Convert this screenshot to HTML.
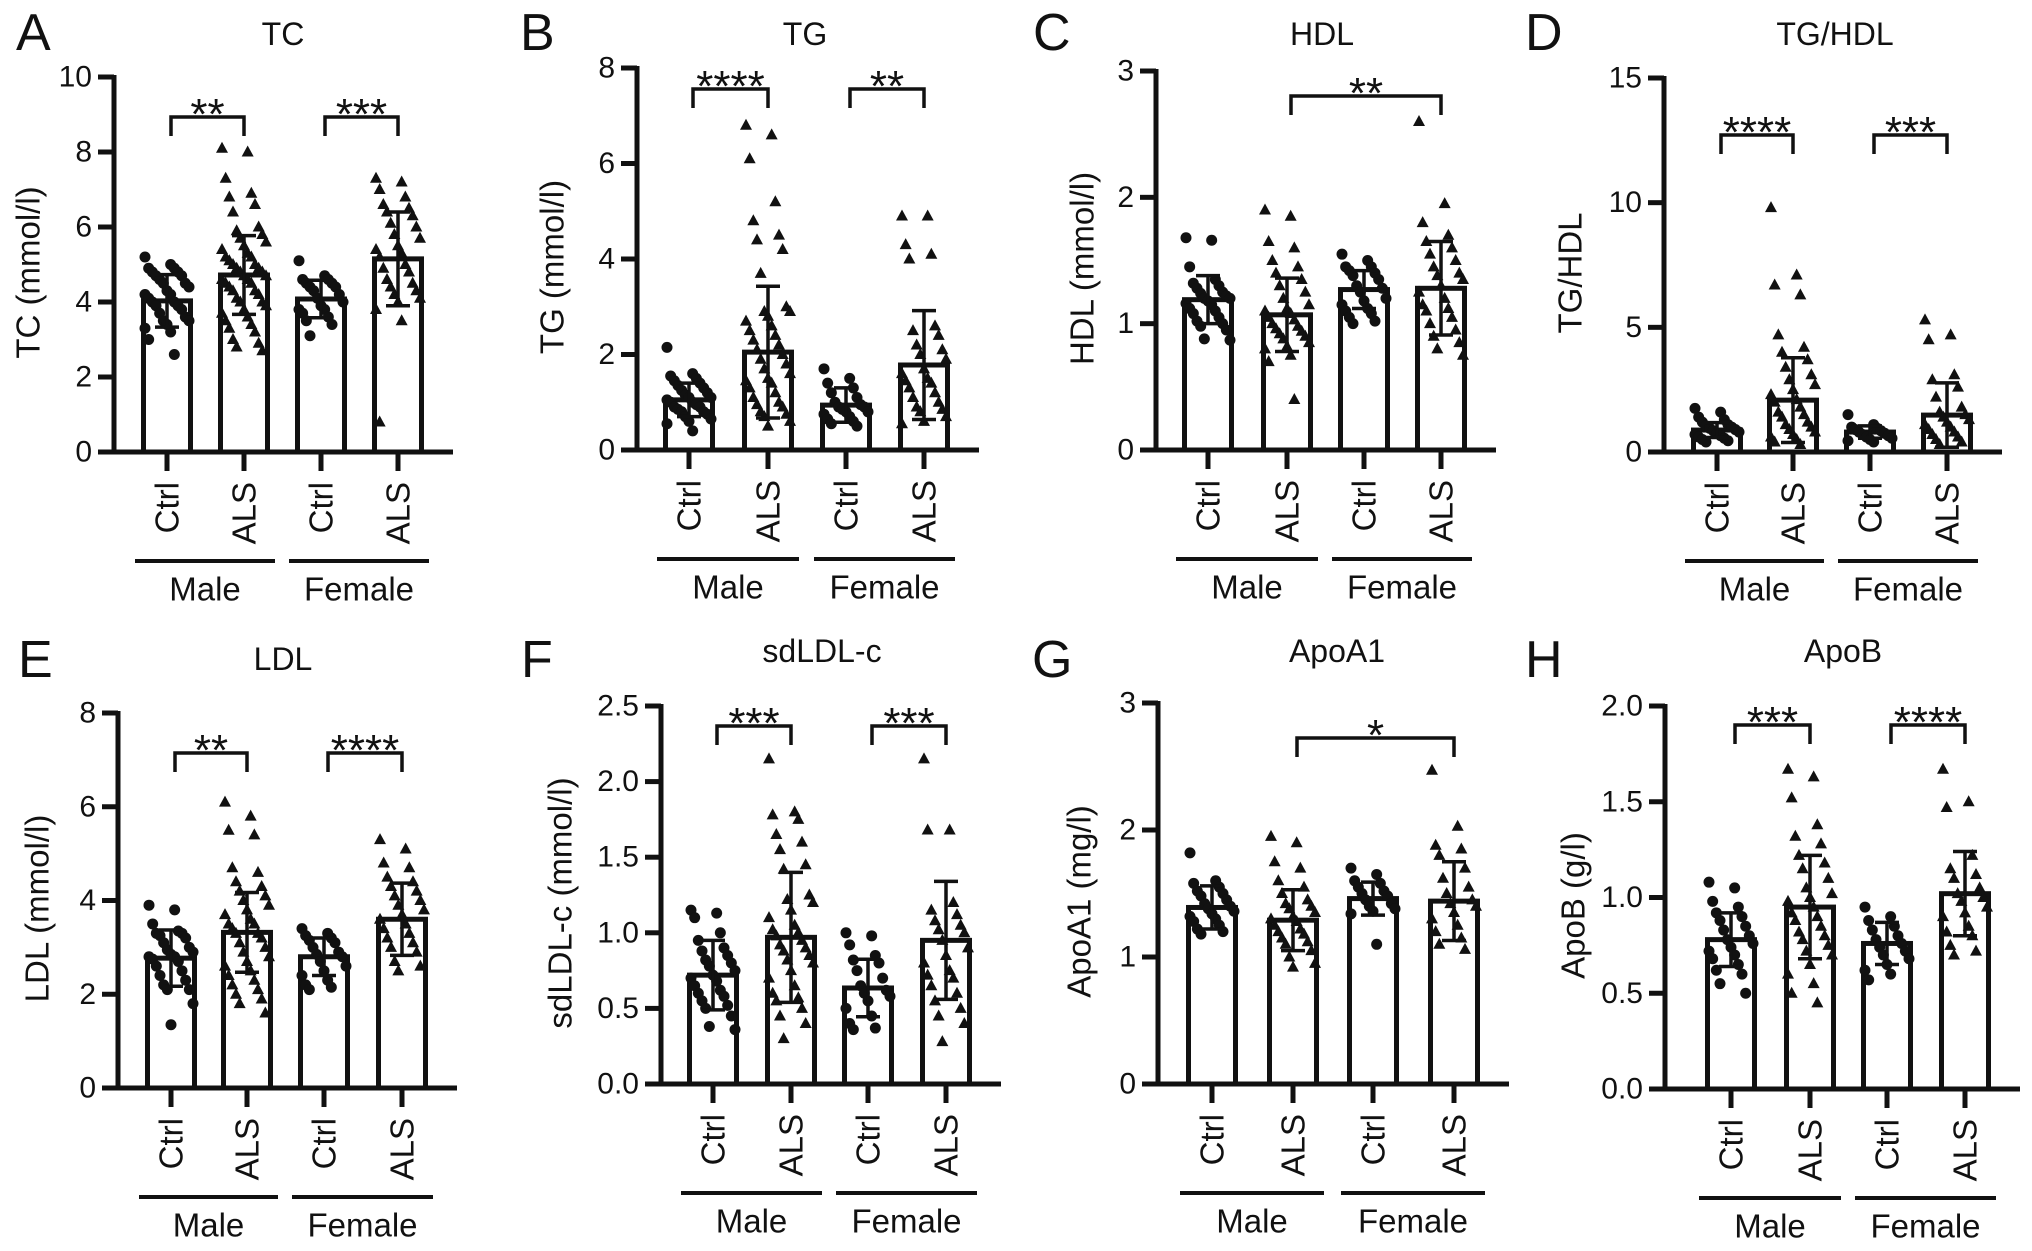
<!DOCTYPE html>
<html><head><meta charset="utf-8"><style>
html,body{margin:0;padding:0;background:#fff}
svg{display:block}
text{font-family:"Liberation Sans",Arial,sans-serif;fill:#111}
</style></head><body>
<svg id="fig" width="2032" height="1251" viewBox="0 0 2032 1251" xmlns="http://www.w3.org/2000/svg"></svg>
<script>
// ---------- data ----------
const groupNames = ["Ctrl","ALS","Ctrl","ALS"];
const sexNames = ["Male","Female"];

const tcMeans=[4.03,4.72,4.08,5.15];
const tcSD=[0.7,1.05,0.5,1.25];
const tcCtrlM=[5.2,5.0,4.9,4.9,4.8,4.8,4.7,4.7,4.6,4.5,4.5,4.4,4.3,4.2,4.2,4.1,4.0,4.0,3.9,3.9,3.8,3.7,3.6,3.5,3.5,3.4,3.3,3.2,3.0,2.6];
const tcAlsM=[8.1,8.0,7.3,6.9,6.8,6.6,6.4,6.0,5.9,5.8,5.7,5.6,5.5,5.4,5.3,5.2,5.2,5.1,5.0,5.0,4.9,4.9,4.8,4.8,4.7,4.7,4.6,4.6,4.5,4.5,4.4,4.3,4.3,4.2,4.1,4.0,4.0,3.9,3.8,3.7,3.6,3.5,3.4,3.3,3.2,3.0,2.9,2.8,2.7];
const tcCtrlF=[5.1,4.7,4.6,4.6,4.5,4.5,4.4,4.4,4.3,4.2,4.1,4.0,3.9,3.8,3.8,3.7,3.6,3.5,3.4,3.1];
const tcAlsF=[7.3,7.2,7.0,6.8,6.6,6.5,6.4,6.3,6.1,6.0,5.8,5.7,5.5,5.4,5.3,5.2,5.0,4.9,4.8,4.6,4.5,4.4,4.3,4.2,4.1,4.0,3.8,3.5,0.8];
const tcTicks=["0","2","4","6","8","10"];

const tgMeans=[1.05,2.05,0.94,1.78];
const tgSD=[0.35,1.38,0.36,1.14];
const tgCtrlM=[2.15,1.6,1.55,1.5,1.45,1.4,1.35,1.3,1.25,1.2,1.15,1.1,1.1,1.05,1.0,1.0,0.95,0.9,0.9,0.85,0.8,0.8,0.75,0.7,0.65,0.6,0.55,0.4];
const tgAlsM=[6.8,6.6,6.1,5.2,4.8,4.5,4.4,4.2,3.7,3.0,2.9,2.9,2.8,2.7,2.6,2.5,2.4,2.3,2.2,2.1,2.0,1.9,1.8,1.7,1.6,1.5,1.45,1.4,1.3,1.2,1.1,1.0,0.95,0.9,0.8,0.75,0.7,0.6,0.5];
const tgCtrlF=[1.7,1.5,1.4,1.3,1.2,1.1,1.0,0.95,0.9,0.9,0.85,0.8,0.8,0.75,0.7,0.65,0.6,0.55,0.5];
const tgAlsF=[4.9,4.9,4.3,4.1,4.0,2.6,2.5,2.4,2.2,2.1,2.0,1.9,1.7,1.6,1.5,1.45,1.4,1.3,1.2,1.1,1.0,0.9,0.85,0.8,0.7,0.6,0.55];
const tgTicks=["0","2","4","6","8"];

const hdlMeans=[1.19,1.07,1.27,1.28];
const hdlSD=[0.19,0.29,0.15,0.37];
const hdlCtrlM=[1.68,1.66,1.45,1.35,1.32,1.3,1.28,1.25,1.24,1.22,1.2,1.2,1.18,1.16,1.15,1.12,1.1,1.08,1.05,1.02,1.0,0.98,0.95,0.88,0.87];
const hdlAlsM=[1.9,1.85,1.65,1.6,1.5,1.45,1.4,1.35,1.3,1.25,1.2,1.15,1.12,1.1,1.08,1.05,1.03,1.0,0.98,0.96,0.94,0.92,0.9,0.88,0.85,0.82,0.8,0.75,0.7,0.4];
const hdlCtrlF=[1.55,1.5,1.45,1.45,1.42,1.4,1.38,1.35,1.3,1.28,1.25,1.2,1.18,1.15,1.12,1.1,1.08,1.05,1.02,1.0];
const hdlAlsF=[2.6,1.95,1.8,1.7,1.65,1.6,1.55,1.5,1.45,1.4,1.38,1.35,1.3,1.25,1.2,1.15,1.12,1.1,1.05,1.0,0.95,0.9,0.85,0.8,0.75];
const hdlTicks=["0","1","2","3"];

const ratioMeans=[0.88,2.08,0.8,1.48];
const ratioSD=[0.3,1.7,0.25,1.29];
const ratioCtrlM=[1.75,1.6,1.4,1.3,1.2,1.1,1.05,1.0,0.95,0.9,0.85,0.8,0.75,0.7,0.65,0.6,0.55,0.5,0.45,0.4];
const ratioAlsM=[9.8,7.1,6.7,6.3,4.7,4.2,4.0,3.7,3.4,3.1,2.9,2.7,2.5,2.3,2.1,2.0,1.8,1.6,1.5,1.4,1.2,1.1,1.0,0.9,0.8,0.7,0.6,0.5,0.4,0.3];
const ratioCtrlF=[1.5,1.1,1.0,0.95,0.9,0.85,0.8,0.75,0.7,0.65,0.6,0.55,0.5,0.45,0.4];
const ratioAlsF=[5.3,4.7,4.5,3.1,2.9,2.6,2.2,1.8,1.6,1.5,1.4,1.3,1.2,1.1,1.0,0.9,0.8,0.7,0.6,0.5,0.4,0.3];
const ratioTicks=["0","5","10","15"];

const ldlMeans=[2.77,3.32,2.8,3.6];
const ldlSD=[0.6,0.85,0.4,0.77];
const ldlCtrlM=[3.9,3.8,3.5,3.35,3.3,3.3,3.25,3.2,3.1,3.0,2.95,2.9,2.85,2.8,2.8,2.75,2.7,2.6,2.5,2.4,2.3,2.2,2.1,2.1,1.8,1.35];
const ldlAlsM=[6.1,5.8,5.5,5.4,4.7,4.6,4.4,4.3,4.2,4.1,4.0,3.9,3.8,3.7,3.6,3.5,3.5,3.4,3.3,3.3,3.2,3.1,3.0,2.9,2.8,2.7,2.6,2.5,2.4,2.3,2.2,2.1,2.0,1.9,1.8,1.6];
const ldlCtrlF=[3.4,3.3,3.25,3.2,3.15,3.1,3.0,2.9,2.85,2.8,2.7,2.6,2.5,2.4,2.3,2.2,2.15,2.1];
const ldlAlsF=[5.3,5.1,4.8,4.7,4.5,4.4,4.3,4.2,4.1,4.0,3.9,3.8,3.7,3.6,3.5,3.4,3.3,3.2,3.1,3.0,2.9,2.7,2.6,2.5];
const ldlTicks=["0","2","4","6","8"];

const sdMeans=[0.72,0.97,0.635,0.95];
const sdSD=[0.23,0.43,0.19,0.39];
const sdCtrlM=[1.15,1.13,1.1,1.0,0.95,0.9,0.88,0.85,0.82,0.8,0.78,0.75,0.72,0.7,0.68,0.65,0.62,0.6,0.58,0.55,0.52,0.5,0.45,0.38,0.36];
const sdAlsM=[2.15,1.8,1.78,1.75,1.65,1.6,1.55,1.45,1.42,1.25,1.22,1.2,1.15,1.1,1.05,1.02,1.0,0.98,0.95,0.92,0.9,0.88,0.85,0.82,0.8,0.75,0.7,0.65,0.6,0.57,0.55,0.5,0.45,0.4,0.3];
const sdCtrlF=[1.0,0.98,0.92,0.85,0.82,0.8,0.75,0.7,0.65,0.62,0.6,0.58,0.55,0.5,0.45,0.4,0.37,0.36];
const sdAlsF=[2.15,1.68,1.68,1.2,1.15,1.12,1.08,1.05,1.02,1.0,0.95,0.9,0.85,0.8,0.75,0.72,0.7,0.65,0.6,0.55,0.5,0.45,0.4,0.28];
const sdTicks=["0.0","0.5","1.0","1.5","2.0","2.5"];

const a1Means=[1.39,1.29,1.46,1.44];
const a1SD=[0.17,0.24,0.13,0.31];
const a1CtrlM=[1.82,1.6,1.58,1.55,1.52,1.5,1.48,1.45,1.42,1.4,1.38,1.36,1.34,1.32,1.3,1.28,1.25,1.22,1.2,1.18];
const a1AlsM=[1.95,1.9,1.75,1.7,1.6,1.55,1.5,1.45,1.42,1.4,1.38,1.35,1.32,1.3,1.28,1.25,1.22,1.2,1.18,1.15,1.12,1.1,1.05,1.0,0.95,0.92];
const a1CtrlF=[1.7,1.65,1.6,1.58,1.55,1.52,1.5,1.48,1.45,1.42,1.4,1.38,1.36,1.34,1.1];
const a1AlsF=[2.47,2.03,1.88,1.85,1.8,1.7,1.62,1.55,1.5,1.45,1.42,1.4,1.35,1.3,1.25,1.2,1.15,1.1,1.06];
const a1Ticks=["0","1","2","3"];

const bMeans=[0.78,0.95,0.76,1.02];
const bSD=[0.14,0.27,0.11,0.22];
const bCtrlM=[1.08,1.05,0.98,0.95,0.92,0.9,0.88,0.85,0.83,0.8,0.78,0.76,0.74,0.72,0.7,0.68,0.65,0.62,0.6,0.55,0.5];
const bAlsM=[1.67,1.63,1.52,1.38,1.32,1.28,1.22,1.18,1.15,1.1,1.05,1.02,1.0,0.98,0.95,0.92,0.9,0.88,0.85,0.82,0.8,0.78,0.75,0.72,0.7,0.65,0.6,0.55,0.5,0.45];
const bCtrlF=[0.95,0.9,0.88,0.85,0.83,0.8,0.78,0.76,0.74,0.72,0.7,0.68,0.65,0.62,0.6,0.57];
const bAlsF=[1.67,1.5,1.47,1.22,1.15,1.12,1.1,1.05,1.02,1.0,0.98,0.95,0.92,0.9,0.85,0.82,0.8,0.75,0.72,0.7];
const bTicks=["0.0","0.5","1.0","1.5","2.0"];

// ---------- layout (positions only) ----------
const panels=[
 {key:"tc",letter:"A",lx:16,ly:50,title:"TC",tx:283,ty:45,ylab:"TC (mmol/l)",ylx:28,ax:114,y0:452,yT:77,ymax:10,means:tcMeans,sd:tcSD,pts:[tcCtrlM,tcAlsM,tcCtrlF,tcAlsF],ticks:tcTicks,bx:[167,244,321,398],br:[[0,1,117,"**"],[2,3,117,"***"]]},
 {key:"tg",letter:"B",lx:520,ly:50,title:"TG",tx:805,ty:45,ylab:"TG (mmol/l)",ylx:552,ax:637,y0:450,yT:68,ymax:8,means:tgMeans,sd:tgSD,pts:[tgCtrlM,tgAlsM,tgCtrlF,tgAlsF],ticks:tgTicks,bx:[689,768,846,924],br:[[0,1,89,"****"],[2,3,89,"**"]]},
 {key:"hdl",letter:"C",lx:1033,ly:50,title:"HDL",tx:1322,ty:45,ylab:"HDL (mmol/l)",ylx:1082,ax:1156,y0:450,yT:71,ymax:3,means:hdlMeans,sd:hdlSD,pts:[hdlCtrlM,hdlAlsM,hdlCtrlF,hdlAlsF],ticks:hdlTicks,bx:[1208,1287,1364,1441],br:[[1,3,96,"**"]]},
 {key:"ratio",letter:"D",lx:1525,ly:50,title:"TG/HDL",tx:1835,ty:45,ylab:"TG/HDL",ylx:1570,ax:1664,y0:452,yT:78,ymax:15,means:ratioMeans,sd:ratioSD,pts:[ratioCtrlM,ratioAlsM,ratioCtrlF,ratioAlsF],ticks:ratioTicks,bx:[1717,1793,1870,1947],br:[[0,1,135,"****"],[2,3,135,"***"]]},
 {key:"ldl",letter:"E",lx:18,ly:677,title:"LDL",tx:283,ty:670,ylab:"LDL (mmol/l)",ylx:37,ax:118,y0:1088,yT:713,ymax:8,means:ldlMeans,sd:ldlSD,pts:[ldlCtrlM,ldlAlsM,ldlCtrlF,ldlAlsF],ticks:ldlTicks,bx:[171,247,324,402],br:[[0,1,753,"**"],[2,3,753,"****"]]},
 {key:"sd",letter:"F",lx:521,ly:677,title:"sdLDL-c",tx:822,ty:662,ylab:"sdLDL-c (mmol/l)",ylx:560,ax:661,y0:1084,yT:706,ymax:2.5,means:sdMeans,sd:sdSD,pts:[sdCtrlM,sdAlsM,sdCtrlF,sdAlsF],ticks:sdTicks,bx:[713,791,868,946],br:[[0,1,726,"***"],[2,3,726,"***"]]},
 {key:"a1",letter:"G",lx:1032,ly:677,title:"ApoA1",tx:1337,ty:662,ylab:"ApoA1 (mg/l)",ylx:1079,ax:1158,y0:1084,yT:703,ymax:3,means:a1Means,sd:a1SD,pts:[a1CtrlM,a1AlsM,a1CtrlF,a1AlsF],ticks:a1Ticks,bx:[1212,1293,1373,1454],br:[[1,3,738,"*"]]},
 {key:"b",letter:"H",lx:1525,ly:677,title:"ApoB",tx:1843,ty:662,ylab:"ApoB (g/l)",ylx:1573,ax:1665,y0:1089,yT:706,ymax:2,means:bMeans,sd:bSD,pts:[bCtrlM,bAlsM,bCtrlF,bAlsF],ticks:bTicks,bx:[1731,1810,1887,1965],br:[[0,1,725,"***"],[2,3,725,"****"]]}
];

const NS="http://www.w3.org/2000/svg";
const svg=document.getElementById("fig");
function mk(tag,attrs,parent){const e=document.createElementNS(NS,tag);for(const k in attrs)e.setAttribute(k,attrs[k]);(parent||svg).appendChild(e);return e;}
function txt(s,attrs,parent){const e=mk("text",attrs,parent);e.textContent=s;return e;}

panels.forEach(p=>{
  const g=mk("g",{});
  
  
  const y=v=>p.y0-(v/p.ymax)*(p.y0-p.yT);
  const L=txt(p.letter,{x:p.lx,y:p.ly,"font-size":52},g);
  
  
  const T=txt(p.title,{x:p.tx,y:p.ty,"font-size":32,"text-anchor":"middle"},g);
  
  
  const midY=(p.y0+p.yT)/2+8;
  const YL=txt(p.ylab,{x:0,y:0,"font-size":33,"text-anchor":"middle","dominant-baseline":"central",transform:`translate(${p.ylx},${midY}) rotate(-90)`},g);
  
  
  // y axis + ticks
  const ya=mk("line",{x1:p.ax,y1:p.yT-2,x2:p.ax,y2:p.y0+2,stroke:"#111","stroke-width":5},g);
  
  
  const n=p.ticks.length;
  p.ticks.forEach((t,i)=>{
    const v=p.ymax*i/(n-1), yy=y(v);
    const tk=mk("line",{x1:p.ax-16,y1:yy,x2:p.ax,y2:yy,stroke:"#111","stroke-width":5},g);
    
    
    const tl=txt(t,{x:p.ax-22,y:yy,"font-size":30,"text-anchor":"end","dominant-baseline":"central"},g);
    
    
  });
  // x axis
  const xa=mk("line",{x1:p.ax-16,y1:p.y0,x2:p.bx[3]+55,y2:p.y0,stroke:"#111","stroke-width":5},g);
  
  
  // bars
  p.means.forEach((m,i)=>{
    const cx=p.bx[i];
    const r=mk("rect",{x:cx-23.5,y:y(m),width:47,height:p.y0-y(m),fill:"#fff",stroke:"#111","stroke-width":5},g);
    
    
    // points
    p.pts[i].forEach((v,j)=>{
      const off=(((j*7)%13)/6-1)*22;
      const px=cx+off, py=y(v);
      let mkp;
      if(i%2===0){mkp=mk("circle",{cx:px,cy:py,r:5.5,fill:"#111"},g);}
      else{mkp=mk("path",{d:`M${px},${py-6.5}L${px+6},${py+4.5}L${px-6},${py+4.5}Z`,fill:"#111"},g);}
      
      
    });
    // error bar
    const s=p.sd[i], yt=y(m+s), yb=y(Math.max(0,m-s));
    const eb=mk("path",{d:`M${cx},${yt}V${yb}M${cx-12},${yt}H${cx+12}M${cx-12},${yb}H${cx+12}`,stroke:"#111","stroke-width":3.5,fill:"none"},g);
    
    
    // x tick
    const xt=mk("line",{x1:cx,y1:p.y0,x2:cx,y2:p.y0+19,stroke:"#111","stroke-width":5},g);
    
    
    const cl=txt(groupNames[i],{x:0,y:0,"font-size":33,"text-anchor":"end","dominant-baseline":"central",transform:`translate(${cx},${p.y0+30}) rotate(-90)`},g);
    
    
  });
  // group lines
  [[0,1],[2,3]].forEach((pr,k)=>{
    const x1=p.bx[pr[0]]-32, x2=p.bx[pr[1]]+31;
    const gl=mk("line",{x1:x1,y1:p.y0+109,x2:x2,y2:p.y0+109,stroke:"#111","stroke-width":4},g);
    
    
    const gt=txt(sexNames[k],{x:(x1+x2)/2,y:p.y0+137,"font-size":33,"text-anchor":"middle","dominant-baseline":"central"},g);
    
    
  });
  // brackets
  p.br.forEach(b=>{
    const x1=p.bx[b[0]]+4, x2=p.bx[b[1]], by=b[2];
    const bk=mk("path",{d:`M${x1},${by+19}V${by}H${x2}V${by+19}`,stroke:"#111","stroke-width":3.5,fill:"none"},g);
    
    
    const st=txt(b[3],{x:(x1+x2)/2,y:by+12,"font-size":44,"text-anchor":"middle"},g);
    
    
  });
});
</script>
</body></html>
